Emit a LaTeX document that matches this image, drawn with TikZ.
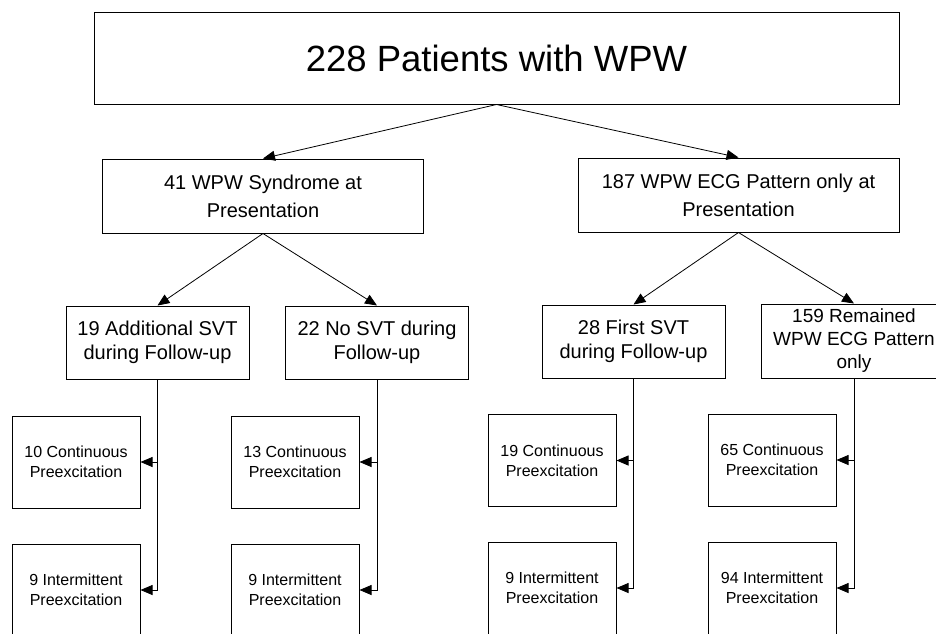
\documentclass[tikz,border=0pt]{standalone}
\usepackage{fontspec}
\setmainfont{Liberation Sans}
\usetikzlibrary{arrows.meta}

\begin{document}
\begin{tikzpicture}[x=1pt, y=-1pt,
    box/.style={draw, line width=1pt, inner sep=0pt, align=center},
    topbox/.style={box, minimum width=805pt, minimum height=92pt, font=\fontsize{36.5}{40}\selectfont},
    groupbox/.style={box, minimum width=321pt, minimum height=74pt, font=\fontsize{20}{28}\selectfont},
    svtbox/.style={box, minimum width=183pt, minimum height=73pt, font=\fontsize{20}{23.5}\selectfont},
    ecgbox/.style={box, minimum width=128pt, minimum height=92pt, font=\fontsize{16}{20}\selectfont},
    link/.style={line width=0.8pt, -{Triangle[length=12pt, width=10pt]}}]
    % Fix the page to the size of the picture
    \useasboundingbox (0,0) rectangle (936,633);
    \clip (0,0) rectangle (936,633);

    % Draw the top box
    \node[topbox] (all) at (496.5,58) {228 Patients with WPW};

    % Draw the two groups at presentation
    \node[groupbox] (syn) at (263,196) {41 WPW Syndrome at\\Presentation};
    \node[groupbox] (pat) at (738.5,195) {187 WPW ECG Pattern only at\\Presentation};

    % Draw the follow-up boxes
    \node[svtbox] (addsvt) at (157.5,342.5) {19 Additional SVT\\during Follow-up};
    \node[svtbox] (nosvt) at (377,342.5) {22 No SVT during\\Follow-up};
    \node[svtbox] (firstsvt) at (633.5,341.5) {28 First SVT\\during Follow-up};
    \node[svtbox, minimum width=186pt, minimum height=74pt, font=\fontsize{19}{23}\selectfont] (remain) at (854,341) {159 Remained\\WPW ECG Pattern\\only};

    % Draw the preexcitation boxes
    \node[ecgbox] (cont10) at (76,462) {10 Continuous\\Preexcitation};
    \node[ecgbox] (inter9a) at (76,590) {9 Intermittent\\Preexcitation};
    \node[ecgbox] (cont13) at (295,462) {13 Continuous\\Preexcitation};
    \node[ecgbox] (inter9b) at (295,590) {9 Intermittent\\Preexcitation};
    \node[ecgbox] (cont19) at (552,460.5) {19 Continuous\\Preexcitation};
    \node[ecgbox] (inter9c) at (552,588) {9 Intermittent\\Preexcitation};
    \node[ecgbox] (cont65) at (772,460) {65 Continuous\\Preexcitation};
    \node[ecgbox] (inter94) at (772,588) {94 Intermittent\\Preexcitation};

    % Arrows from the top box
    \draw[link] (all.south) -- (syn.north);
    \draw[link] (all.south) -- (pat.north);

    % Arrows to the follow-up boxes
    \draw[link] (syn.south) -- (addsvt.north);
    \draw[link] (syn.south) -- (nosvt.north);
    \draw[link] (pat.south) -- (firstsvt.north);
    \draw[link] (pat.south) -- (remain.north);

    % Side arrows to the preexcitation boxes
    \draw[link] (addsvt.south) |- (inter9a.east);
    \draw[link] (addsvt.south |- cont10.east) -- (cont10.east);
    \draw[link] (nosvt.south) |- (inter9b.east);
    \draw[link] (nosvt.south |- cont13.east) -- (cont13.east);
    \draw[link] (firstsvt.south) |- (inter9c.east);
    \draw[link] (firstsvt.south |- cont19.east) -- (cont19.east);
    \draw[link] (remain.south) |- (inter94.east);
    \draw[link] (remain.south |- cont65.east) -- (cont65.east);
\end{tikzpicture}
\end{document}
